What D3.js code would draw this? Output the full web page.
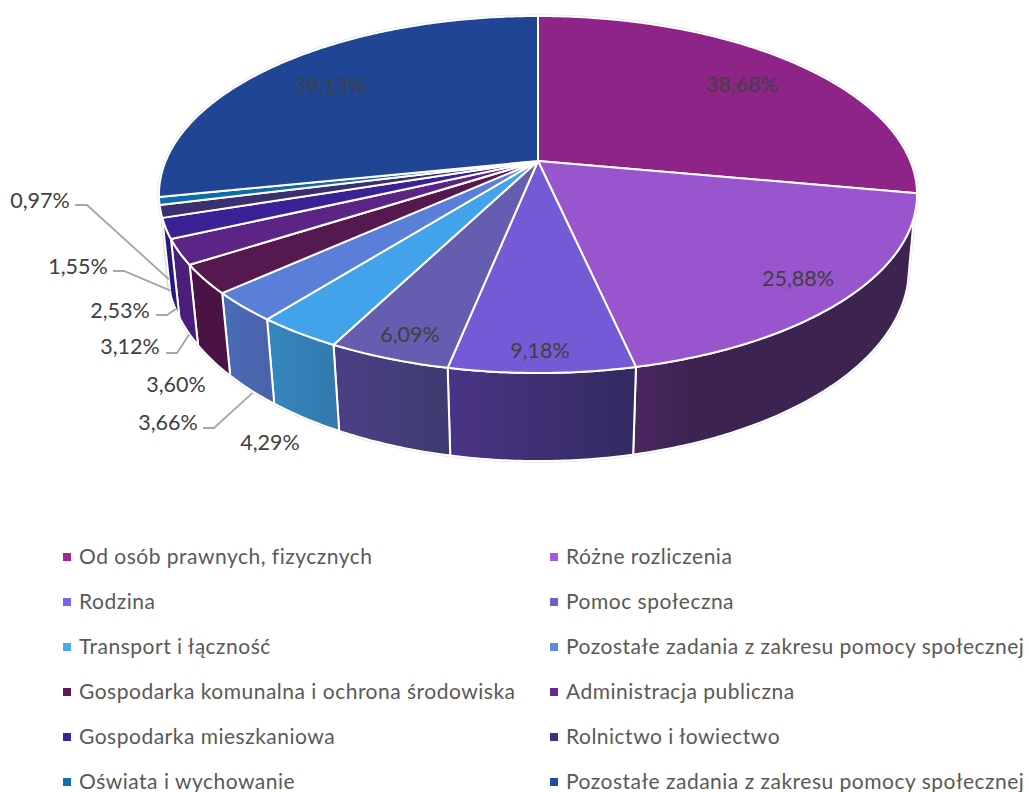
<!DOCTYPE html>
<html>
<head>
<meta charset="utf-8">
<script src="https://cdnjs.cloudflare.com/ajax/libs/d3/7.8.5/d3.min.js"></script>
<style>
    body { margin: 0; background: #fff; overflow: hidden; }
    text { font-family: Lato, "Open Sans", sans-serif; }
</style>
</head>
<body>
<div id="chart"></div>
<script>
// data
var categories = ["Od osób prawnych, fizycznych", "Różne rozliczenia", "Rodzina", "Pomoc społeczna",
    "Transport i łączność", "Pozostałe zadania z zakresu pomocy społecznej",
    "Gospodarka komunalna i ochrona środowiska", "Administracja publiczna",
    "Gospodarka mieszkaniowa", "Rolnictwo i łowiectwo", "Oświata i wychowanie",
    "Pozostałe zadania z zakresu pomocy społecznej"];
var values = [38.68, 25.88, 9.18, 6.09, 4.29, 3.66, 3.60, 3.12, 2.53, 1.55, 0.97, 39.13];

var topColors = ["#8e2487", "#9955cd", "#745bd5", "#655db0", "#42a3ea", "#5a7fd8",
    "#55184f", "#5c2485", "#3a2195", "#3a2f70", "#0f6aa8", "#1f4594"];
var wallLeft = [null, "#3c2350", "#322a60", "#3c3c70", "#3378ab", "#4a62a8",
    "#4a1245", "#4a1e7a", "#2a1a80", null, null, null];
var wallRight = [null, "#4a2860", "#4a3485", "#4c3f85", "#3588c0", "#4a6cb8",
    "#4a1245", "#4a1e7a", "#2a1a80", null, null, null];
// where the wall gradient starts, the big wall stays flat most of the way
var wallFlat = [0, 0.78, 0, 0, 0, 0, 0, 0, 0, 0, 0, 0];
var legendColors = ["#a0299a", "#a85ade", "#7f64e2", "#6b62bd", "#4aaaf0", "#5f88e0",
    "#5e1a58", "#65288f", "#3c22a0", "#3c3080", "#106fb0", "#1f4a9e"];

// label places, in slice order
var labelX = [742, 798, 540, 410, 270, 168, 176, 130, 120, 78, 40, 330];
var labelY = [92, 286, 358, 342, 450, 430, 392, 354, 318, 274, 208, 93];
// which labels have a leader line
var leaderFrom = { 5: [203, 428, 214], 7: [166, 353, 177], 8: [156, 315, 167], 9: [113, 271, 124], 10: [75, 205, 87] };

var width = 1029, height = 792;

var svg = d3.select("#chart")
    .append("svg")
    .attr("width", width)
    .attr("height", height);

var defs = svg.append("defs");

// the 3D view: a circle seen in perspective, once for the top and once for the bottom
var topPlane = { cx: 538, cy: 161, r: 372.3, s: 172.2, k: 0.1877 };
var bottomPlane = { cx: 538, cy: 233, r: 365, s: 187, k: 0.18 };

function project(plane, angle) {
    var u = Math.sin(angle), v = Math.cos(angle);
    var d = 1 + plane.k * v;
    return [plane.cx + plane.r * u / d, plane.cy - plane.s * v / d];
}

function arcPoints(plane, a0, a1) {
    var n = Math.max(2, Math.ceil(Math.abs(a1 - a0) / 0.01));
    return d3.range(n + 1).map(function (i) {
        return project(plane, a0 + (a1 - a0) * i / n);
    });
}

var line = d3.line();
var deg = Math.PI / 180;

var pie = d3.pie().sort(null).value(function (d) { return d; });
var slices = pie(values);

// outline of the whole shape, gives the thin grey edge
var outline = arcPoints(topPlane, -108 * deg, 108 * deg)
    .concat(arcPoints(bottomPlane, 105 * deg, 255 * deg));
svg.append("path")
    .attr("d", line(outline) + "Z")
    .attr("fill", "#fff")
    .attr("stroke", "#dcdcdc")
    .attr("stroke-width", 3);

// walls
slices.forEach(function (s, i) {
    if (!wallLeft[i]) return;
    var a0 = s.startAngle, a1 = s.endAngle;
    var pts;
    if (i == 1) {
        // right silhouette of the pie
        pts = arcPoints(topPlane, 108 * deg, a1).concat(arcPoints(bottomPlane, a1, 105 * deg));
    } else {
        pts = arcPoints(topPlane, a0, a1).concat(arcPoints(bottomPlane, a1, a0));
    }
    var x = d3.extent(pts, function (p) { return p[0]; });
    var grad = defs.append("linearGradient")
        .attr("id", "wall" + i)
        .attr("gradientUnits", "userSpaceOnUse")
        .attr("x1", x[1]).attr("x2", x[0])
        .attr("y1", 0).attr("y2", 0);
    grad.append("stop").attr("offset", wallFlat[i]).attr("stop-color", wallLeft[i]);
    grad.append("stop").attr("offset", 1).attr("stop-color", wallRight[i]);
    svg.append("path")
        .attr("d", line(pts) + "Z")
        .attr("fill", "url(#wall" + i + ")")
        .attr("stroke", "#fff")
        .attr("stroke-width", 2)
        .attr("stroke-linejoin", "round");
});

// top face
svg.selectAll("path.slice")
    .data(slices)
    .enter()
    .append("path")
    .attr("class", "slice")
    .attr("d", function (s) {
        return line([[topPlane.cx, topPlane.cy]].concat(arcPoints(topPlane, s.startAngle, s.endAngle))) + "Z";
    })
    .attr("fill", function (s, i) { return topColors[i]; })
    .attr("stroke", "#fff")
    .attr("stroke-width", 2)
    .attr("stroke-linejoin", "round");

// leader lines
Object.keys(leaderFrom).forEach(function (key) {
    var s = slices[key], f = leaderFrom[key];
    var end = project(bottomPlane, (s.startAngle + s.endAngle) / 2);
    svg.append("path")
        .attr("d", line([[f[0], f[1]], [f[2], f[1]], [end[0] + 1.5, end[1] + 3]]))
        .attr("fill", "none")
        .attr("stroke", "#a6a6a6")
        .attr("stroke-width", 1.8);
});

// value labels
svg.selectAll("text.value")
    .data(values)
    .enter()
    .append("text")
    .attr("class", "value")
    .attr("text-anchor", "middle")
    .attr("x", function (d, i) { return labelX[i]; })
    .attr("y", function (d, i) { return labelY[i]; })
    .attr("font-size", 21.5)
    .attr("fill", "#404040")
    .text(function (d) { return d.toFixed(2).replace(".", ",") + "%"; });

// legend, two columns
var legendX = d3.scaleOrdinal().domain([0, 1]).range([63, 550]);
var legendY = d3.scaleLinear().domain([0, 5]).range([557, 782]);

var legend = svg.selectAll("g.legend")
    .data(categories)
    .enter()
    .append("g")
    .attr("class", "legend")
    .attr("transform", function (d, i) {
        return "translate(" + legendX(i % 2) + "," + legendY(Math.floor(i / 2)) + ")";
    });

legend.append("rect")
    .attr("x", 0)
    .attr("y", -4)
    .attr("width", 8)
    .attr("height", 8)
    .attr("fill", function (d, i) { return legendColors[i]; });

legend.append("text")
    .attr("x", 16)
    .attr("y", 7)
    .attr("font-size", 21)
    .attr("letter-spacing", 0.5)
    .attr("fill", "#595959")
    .text(function (d) { return d; });
</script>
</body>
</html>
